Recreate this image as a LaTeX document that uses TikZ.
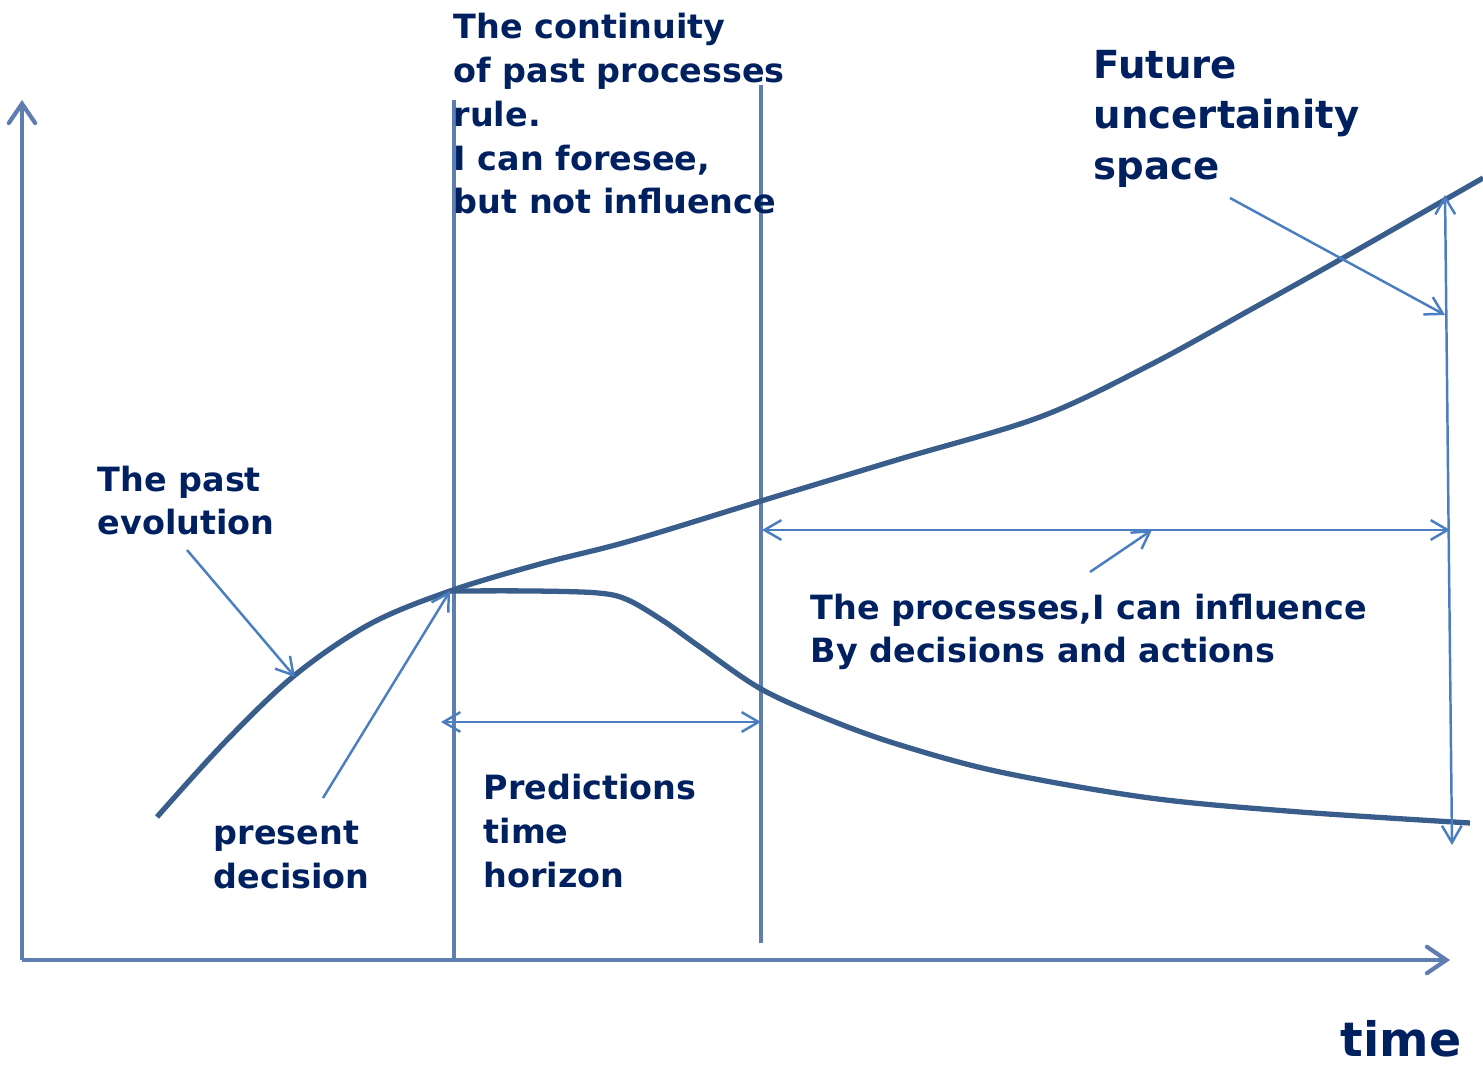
\documentclass[tikz,border=0pt]{standalone}
\usepackage{fontspec}
\setmainfont{DejaVu Sans}
\usetikzlibrary{arrows.meta}
\definecolor{labelnavy}{RGB}{0,32,96}
\definecolor{axisblue}{RGB}{96,125,178}
\definecolor{curveblue}{RGB}{58,94,140}
\definecolor{pointerblue}{RGB}{74,126,193}

\begin{document}
\begin{tikzpicture}[x=0.01cm, y=-0.01cm,
    axisline/.style={draw=axisblue, line width=1.2pt},
    axisarrow/.style={axisline, -{Straight Barb[length=5.5pt, width=7.5pt, line cap=round]}},
    trend/.style={draw=curveblue, line width=1.5pt},
    pointer/.style={draw=pointerblue, line width=0.7pt, -{Straight Barb[length=4.8pt, width=5.6pt]}},
    span/.style={draw=pointerblue, line width=0.7pt, {Straight Barb[length=4.8pt, width=5.6pt]}-{Straight Barb[length=4.8pt, width=5.6pt]}},
    txt/.style={font=\bfseries\fontsize{9.5}{12.5}\selectfont, text=labelnavy, align=left, inner sep=0pt, anchor=base west}]
    \useasboundingbox (0,0) rectangle (1483,1065);

    % axes and the two time marks
    \coordinate (origin) at (22,960);
    \coordinate (ytop) at (22,100);
    \coordinate (xend) at (1450,960);
    \draw[axisarrow] (origin) -- (ytop);
    \draw[axisarrow] (origin) -- (xend);
    \coordinate (nowtop) at (454,100);
    \coordinate (nowbot) at (454,960);
    \coordinate (hortop) at (761,85);
    \coordinate (horbot) at (761,943);
    \draw[axisline] (nowtop) -- (nowbot);
    \draw[axisline] (hortop) -- (horbot);

    % the two branches
    \coordinate (now) at (450,591);
    \draw[trend] plot[smooth, tension=0.55] coordinates {(157,817) (225,742) (295,675) (370,624) (now) (540,564) (630,541) (761,501) (900,459) (1040,417) (1150,365) (1250,310) (1343,258) (1483,178)};
    \draw[trend] plot[smooth, tension=0.55] coordinates {(now) (533,591) (598,593) (628,600) (665,622) (700,647) (761,689) (830,720) (900,745) (1000,772) (1150,798) (1300,812) (1470,823)};

    % texts (base = last line)
    \node[txt] at (453,214) (continuity) {The continuity\\of past processes\\rule.\\I can foresee,\\but not influence};
    \node[txt, font=\bfseries\fontsize{11}{14.5}\selectfont] at (1093,180) (future) {Future\\uncertainity\\space};
    \node[txt] at (97,535) (past) {The past\\evolution};
    \node[txt] at (213,888) (present) {present\\decision};
    \node[txt] at (483,887) (predict) {Predictions\\time\\horizon};
    \node[txt] at (810,663) (influence) {The processes,I can influence\\By decisions and actions};
    \node[txt, font=\bfseries\fontsize{13.5}{16}\selectfont, anchor=base east] at (1462,1056) (time) {time};

    % pointers
    \coordinate (pasttail) at (187,550);
    \coordinate (pasthead) at (295,677);
    \draw[pointer] (pasttail) -- (pasthead);
    \coordinate (presenttail) at (323,798);
    \draw[pointer] (presenttail) -- (now);
    \coordinate (predleft) at (441,722);
    \coordinate (predright) at (761,722);
    \draw[span] (predleft) -- (predright);
    \coordinate (inflleft) at (762,530);
    \coordinate (inflright) at (1450,530);
    \draw[span] (inflleft) -- (inflright);
    \coordinate (infltail) at (1090,572);
    \coordinate (inflhead) at (1152,530);
    \draw[pointer] (infltail) -- (inflhead);
    \coordinate (futuretail) at (1230,198);
    \coordinate (futurehead) at (1445,315);
    \draw[pointer] (futuretail) -- (futurehead);
    \coordinate (spacetop) at (1445,195);
    \coordinate (spacebot) at (1452,845);
    \draw[span] (spacetop) -- (spacebot);
\end{tikzpicture}
\end{document}
